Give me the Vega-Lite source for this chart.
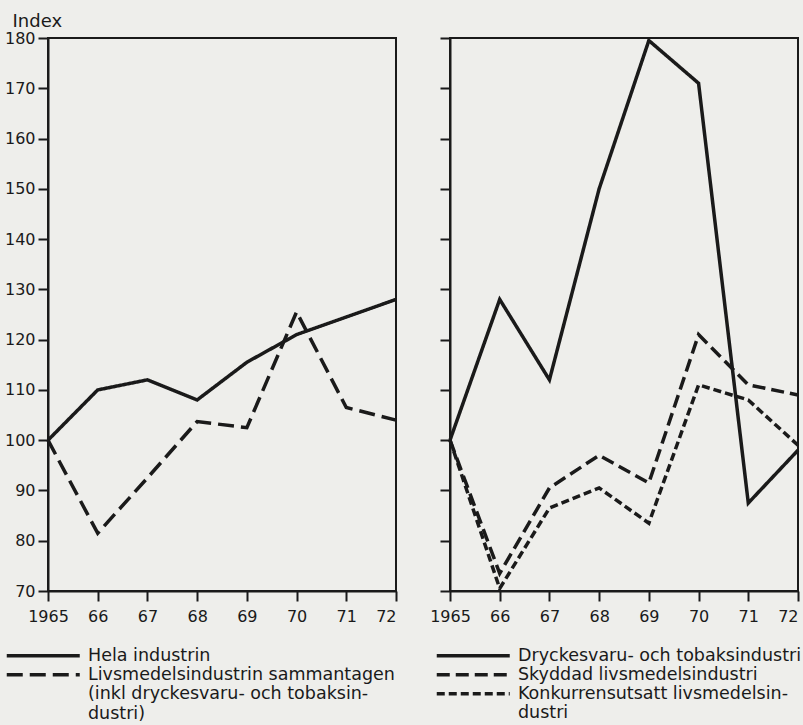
{
  "$schema": "https://vega.github.io/schema/vega-lite/v6.json",
  "background": "#eeeeeb",
  "padding": {"left": 3, "top": 11, "right": 5, "bottom": 5},
  "config": {
    "view": {"stroke": "#1a1a1a", "strokeWidth": 2},
    "font": "DejaVu Sans",
    "line": {"color": "#1a1a1a", "strokeWidth": 3.5},
    "axis": {"domainColor": "#1a1a1a", "domainWidth": 2, "tickColor": "#1a1a1a", "tickWidth": 2, "tickSize": 10, "grid": false, "labelFont": "DejaVu Sans", "labelFontSize": 16, "labelColor": "#1a1a1a", "labelPadding": 3},
    "axisX": {"labelPadding": 7},
    "legend": {"orient": "none", "title": null, "symbolType": "M-7.3,0H7.3", "symbolSize": 100, "symbolStrokeWidth": 4, "symbolStrokeColor": "#1a1a1a", "symbolFillColor": "transparent", "labelOffset": 36, "labelFontSize": 17.5, "labelFont": "DejaVu Sans", "labelColor": "#1a1a1a", "labelLimit": 0, "rowPadding": 0}
  },
  "datasets": {
    "left": [
      {"series": "Hela industrin", "year": 1965, "value": 100},
      {"series": "Hela industrin", "year": 1966, "value": 110},
      {"series": "Hela industrin", "year": 1967, "value": 112},
      {"series": "Hela industrin", "year": 1968, "value": 108},
      {"series": "Hela industrin", "year": 1969, "value": 115.5},
      {"series": "Hela industrin", "year": 1970, "value": 121},
      {"series": "Hela industrin", "year": 1971, "value": 124.5},
      {"series": "Hela industrin", "year": 1972, "value": 128},
      {"series": "Livsmedelsindustrin sammantagen", "year": 1965, "value": 100},
      {"series": "Livsmedelsindustrin sammantagen", "year": 1966, "value": 81.5},
      {"series": "Livsmedelsindustrin sammantagen", "year": 1967, "value": 92.5},
      {"series": "Livsmedelsindustrin sammantagen", "year": 1968, "value": 103.7},
      {"series": "Livsmedelsindustrin sammantagen", "year": 1969, "value": 102.5},
      {"series": "Livsmedelsindustrin sammantagen", "year": 1970, "value": 125.5},
      {"series": "Livsmedelsindustrin sammantagen", "year": 1971, "value": 106.5},
      {"series": "Livsmedelsindustrin sammantagen", "year": 1972, "value": 104}
    ],
    "right": [
      {"series": "Dryckesvaru- och tobaksindustri", "year": 1965, "value": 100},
      {"series": "Dryckesvaru- och tobaksindustri", "year": 1966, "value": 128},
      {"series": "Dryckesvaru- och tobaksindustri", "year": 1967, "value": 112},
      {"series": "Dryckesvaru- och tobaksindustri", "year": 1968, "value": 150},
      {"series": "Dryckesvaru- och tobaksindustri", "year": 1969, "value": 179.5},
      {"series": "Dryckesvaru- och tobaksindustri", "year": 1970, "value": 171},
      {"series": "Dryckesvaru- och tobaksindustri", "year": 1971, "value": 87.5},
      {"series": "Dryckesvaru- och tobaksindustri", "year": 1972, "value": 98},
      {"series": "Skyddad livsmedelsindustri", "year": 1965, "value": 100},
      {"series": "Skyddad livsmedelsindustri", "year": 1966, "value": 73.5},
      {"series": "Skyddad livsmedelsindustri", "year": 1967, "value": 90.5},
      {"series": "Skyddad livsmedelsindustri", "year": 1968, "value": 97},
      {"series": "Skyddad livsmedelsindustri", "year": 1969, "value": 91.5},
      {"series": "Skyddad livsmedelsindustri", "year": 1970, "value": 121},
      {"series": "Skyddad livsmedelsindustri", "year": 1971, "value": 111},
      {"series": "Skyddad livsmedelsindustri", "year": 1972, "value": 109},
      {"series": "Konkurrensutsatt livsmedelsindustri", "year": 1965, "value": 100},
      {"series": "Konkurrensutsatt livsmedelsindustri", "year": 1966, "value": 70.5},
      {"series": "Konkurrensutsatt livsmedelsindustri", "year": 1967, "value": 86.5},
      {"series": "Konkurrensutsatt livsmedelsindustri", "year": 1968, "value": 90.5},
      {"series": "Konkurrensutsatt livsmedelsindustri", "year": 1969, "value": 83.5},
      {"series": "Konkurrensutsatt livsmedelsindustri", "year": 1970, "value": 111},
      {"series": "Konkurrensutsatt livsmedelsindustri", "year": 1971, "value": 108},
      {"series": "Konkurrensutsatt livsmedelsindustri", "year": 1972, "value": 99}
    ]
  },
  "spacing": 54,
  "bounds": "flush",
  "resolve": {"scale": {"strokeDash": "independent", "y": "independent", "x": "independent"}, "legend": {"strokeDash": "independent"}},
  "hconcat": [
    {
      "width": 348,
      "height": 553,
      "data": {"name": "left"},
      "mark": {"type": "line"},
      "encoding": {
        "x": {"field": "year", "type": "quantitative", "scale": {"domain": [1965, 1972], "nice": false, "zero": false},
              "axis": {"values": [1965, 1966, 1967, 1968, 1969, 1970, 1971, 1972], "title": null, "labelFlush": false,
                       "labelAlign": {"expr": "datum.value == 1972 ? 'right' : 'center'"},
                       "labelExpr": "datum.value == 1965 ? '1965' : substring(toString(datum.value), 2)"}},
        "y": {"field": "value", "type": "quantitative", "scale": {"domain": [70, 180], "nice": false, "zero": false},
              "axis": {"values": [70, 80, 90, 100, 110, 120, 130, 140, 150, 160, 170, 180], "title": "Index", "titleAngle": 0, "titleAlign": "left", "titleBaseline": "alphabetic", "titleX": -36, "titleY": -12, "titleFontSize": 18, "titleFontWeight": "normal", "titleColor": "#1a1a1a"}},
        "strokeDash": {"field": "series", "type": "nominal",
                       "scale": {"domain": ["Hela industrin", "Livsmedelsindustrin sammantagen"], "range": [[1, 0], [16, 7]]},
                       "legend": {"legendX": -13.5, "legendY": 609,
                                  "labelExpr": "datum.label == 'Livsmedelsindustrin sammantagen' ? ['Livsmedelsindustrin sammantagen', '(inkl dryckesvaru- och tobaksin-', 'dustri)'] : datum.label"}}
      }
    },
    {
      "width": 348,
      "height": 553,
      "data": {"name": "right"},
      "mark": {"type": "line"},
      "encoding": {
        "x": {"field": "year", "type": "quantitative", "scale": {"domain": [1965, 1972], "nice": false, "zero": false},
              "axis": {"values": [1965, 1966, 1967, 1968, 1969, 1970, 1971, 1972], "title": null, "labelFlush": false,
                       "labelAlign": {"expr": "datum.value == 1972 ? 'right' : 'center'"},
                       "labelExpr": "datum.value == 1965 ? '1965' : substring(toString(datum.value), 2)"}},
        "y": {"field": "value", "type": "quantitative", "scale": {"domain": [70, 180], "nice": false, "zero": false},
              "axis": {"values": [70, 80, 90, 100, 110, 120, 130, 140, 150, 160, 170, 180], "title": null, "labels": false}},
        "strokeDash": {"field": "series", "type": "nominal",
                       "scale": {"domain": ["Dryckesvaru- och tobaksindustri", "Skyddad livsmedelsindustri", "Konkurrensutsatt livsmedelsindustri"], "range": [[1, 0], [13, 6], [8, 4]]},
                       "legend": {"legendX": 14.5, "legendY": 609,
                                  "labelExpr": "datum.label == 'Konkurrensutsatt livsmedelsindustri' ? ['Konkurrensutsatt livsmedelsin-', 'dustri'] : datum.label"}}
      }
    }
  ]
}
